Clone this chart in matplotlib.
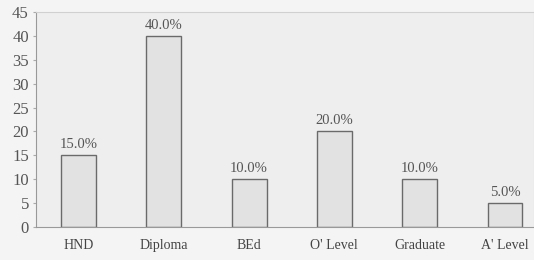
import matplotlib.pyplot as plt
import numpy as np

categories = ["HND", "Diploma", "BEd", "O' Level", "Graduate", "A' Level"]
values = [15, 40, 10, 20, 10, 5]
labels = ["15.0%", "40.0%", "10.0%", "20.0%", "10.0%", "5.0%"]

plt.rcParams['font.family'] = ['Liberation Serif', 'DejaVu Serif']

fig = plt.figure(figsize=(5.34, 2.6), dpi=100, facecolor='#f4f4f4')
ax = fig.add_axes([0.067, 0.127, 0.933, 0.827])
ax.set_facecolor('#eeeeee')

x = np.arange(len(categories))
ax.bar(x, values, width=0.41, color='#e2e2e2', edgecolor='#6a6a6a', linewidth=1.0)

# etiquetas de percentagem acima das barras
for xi, v, lab in zip(x, values, labels):
    ax.text(xi, v + 0.9, lab, ha='center', va='bottom', fontsize=10.5, color='#555555')

ax.set_xlim(-0.5, 5.34)
ax.set_ylim(0, 45)
ax.set_yticks(range(0, 46, 5))
ax.set_xticks(x)
ax.set_xticklabels(categories)
ax.tick_params(axis='x', length=0, pad=9, labelsize=10, labelcolor='#444444')
ax.tick_params(axis='y', length=2, color='#aaaaaa', pad=3, labelsize=12, labelcolor='#555555')

for s in ['top', 'right']:
    ax.spines[s].set_color('#d0d0d0')
for s in ['left', 'bottom']:
    ax.spines[s].set_color('#999999')

fig.savefig('out.png', dpi=100, facecolor=fig.get_facecolor())
